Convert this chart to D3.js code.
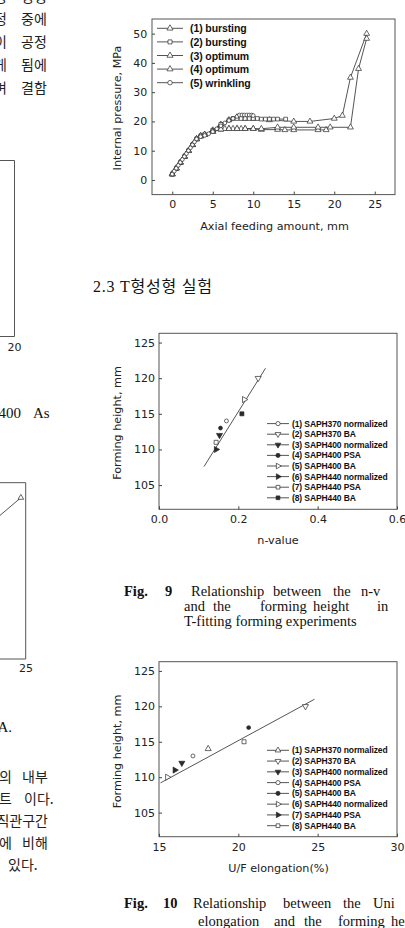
<!DOCTYPE html>
<html><head><meta charset="utf-8">
<script src="https://cdn.jsdelivr.net/npm/d3@7"></script>
<style>
html,body{margin:0;padding:0;background:#fff;}
svg{display:block;}
.tick text{font-family:"DejaVu Sans",sans-serif;fill:#222;}
</style></head>
<body>
<svg id="page" width="405" height="928"></svg>
<script>
// ---------- Chart 1 data (Internal pressure vs axial feeding) ----------
const c1XTicks = [0, 5, 10, 15, 20, 25];
const c1YTicks = [0, 10, 20, 30, 40, 50];
const c1Names = ["(1) bursting", "(2) bursting", "(3) optimum", "(4) optimum", "(5) wrinkling"];
const c1Shapes = ["triUp", "square", "triUp", "triUp", "circle"];
const s1X = [0, 0.5, 1, 1.5, 2, 2.5, 3, 3.5, 4, 5, 6, 7, 8, 9, 10, 12, 15, 17, 20, 21, 22, 24];
const s1Y = [2, 4, 6, 8, 10, 12, 14, 15, 15.5, 17, 19, 20.5, 21.5, 21, 21, 20.5, 20, 20, 21, 22, 35, 50];
const s2X = [0, 0.5, 1, 1.5, 2, 2.5, 3, 3.5, 4, 5, 6, 7, 7.5, 8, 8.5, 9, 9.5, 10, 10.5, 11, 11.5, 12, 12.5, 13, 14];
const s2Y = [2, 4, 6, 8, 10, 12, 14, 15, 15.5, 17, 19, 20.5, 21, 21, 21, 21, 21, 21, 21, 20.8, 20.8, 20.8, 20.8, 20.8, 20.8];
const s3X = [0, 0.5, 1, 1.5, 2, 2.5, 3, 3.5, 4, 5, 6, 6.5, 7, 7.5, 8, 8.5, 9, 10, 11, 13, 13.9, 15, 18, 19];
const s3Y = [2, 4, 6, 8, 10, 12, 14, 15, 15.5, 16.5, 17.3, 17.5, 17.5, 17.5, 17.5, 17.5, 17.5, 17.5, 17.2, 17.2, 17.1, 17.1, 17.1, 17.1];
const s4X = [0, 0.5, 1, 1.5, 2, 2.5, 3, 3.5, 4, 5, 6, 7, 8, 9, 10, 11, 13, 15, 18, 19.5, 22, 23, 24];
const s4Y = [2, 4, 6, 8, 10, 12, 14, 15, 15.5, 16.5, 17.3, 17.5, 17.5, 17.5, 17.5, 17.5, 18, 18, 18, 18, 18, 38, 48.3];
const s5X = [0, 0.25, 0.5, 0.75, 1, 1.25, 1.5, 1.75, 2, 2.25, 2.5, 2.75, 3, 3.5, 4, 4.5, 5, 5.5, 6, 6.5, 7, 7.5, 8, 8.3, 8.6, 8.9, 9.2, 9.5, 9.8, 10];
const s5Y = [2, 3, 4, 5, 6, 7, 8, 9, 10, 11, 12, 13, 14, 14.8, 15.2, 15.8, 16.5, 17.5, 18.5, 19.5, 20.3, 21, 21.7, 22.2, 22.2, 22.2, 22.2, 22.2, 22.2, 22];

// ---------- Chart 2 data (Fig. 9: forming height vs n-value) ----------
const c2XTicks = [0.0, 0.2, 0.4, 0.6];
const c2YTicks = [105, 110, 115, 120, 125];
const c2Names = ["(1) SAPH370 normalized", "(2) SAPH370 BA", "(3) SAPH400 normalized", "(4) SAPH400 PSA",
                 "(5) SAPH400 BA", "(6) SAPH440 normalized", "(7) SAPH440 PSA", "(8) SAPH440 BA"];
const c2Shapes = ["circle", "triDown", "triDownF", "circleF", "triRight", "triRightF", "square", "squareF"];
const c2X = [0.17, 0.25, 0.1525, 0.155, 0.215, 0.144, 0.144, 0.209];
const c2Y = [114, 120, 112, 113, 117, 110, 111, 115];
const c2FitX = [0.1135, 0.2686];
const c2FitY = [107.6, 121.4];

// ---------- Chart 3 data (Fig. 10: forming height vs U/F elongation) ----------
const c3XTicks = [15, 20, 25, 30];
const c3YTicks = [105, 110, 115, 120, 125];
const c3Names = ["(1) SAPH370 normalized", "(2) SAPH370 BA", "(3) SAPH400 normalized", "(4) SAPH400 PSA",
                 "(5) SAPH400 BA", "(6) SAPH440 normalized", "(7) SAPH440 PSA", "(8) SAPH440 BA"];
const c3Shapes = ["triUp", "triDown", "triDownF", "circle", "circleF", "triRight", "triRightF", "square"];
const c3X = [18.1, 24.23, 16.44, 17.14, 20.65, 15.53, 16.0, 20.36];
const c3Y = [114, 120, 112, 113, 117, 110, 111, 115];
const c3FitX = [15.1, 24.8];
const c3FitY = [109.2, 121.0];

// ---------- Page fragments ----------
const fragLine2X = [19.2, 24.4];
const fragLine2Y = [37.9, 50];

const svg = d3.select("#page");
const INK = "#2a2a2a";

function symbolPath(shape, size) {
  let type = d3.symbolTriangle;
  if (shape.startsWith("circle")) type = d3.symbolCircle;
  if (shape.startsWith("square")) type = d3.symbolSquare;
  return d3.symbol().type(type).size(size)();
}
function rotation(shape) {
  if (shape.startsWith("triDown")) return 180;
  if (shape.startsWith("triRight")) return 90;
  return 0;
}
function isFilled(shape) { return shape.endsWith("F"); }

function drawMarker(g, shape, x, y, size) {
  g.append("path")
    .attr("d", symbolPath(shape, size))
    .attr("transform", `translate(${x},${y}) rotate(${rotation(shape)})`)
    .attr("fill", isFilled(shape) ? INK : "#fff")
    .attr("stroke", INK).attr("stroke-width", 0.7);
}

function frameAndAxes(cfg) {
  const g = svg.append("g");
  const x = d3.scaleLinear().domain(cfg.xDom).range([cfg.left, cfg.right]);
  const y = d3.scaleLinear().domain(cfg.yDom).range([cfg.bottom, cfg.top]);
  g.append("rect").attr("x", cfg.left).attr("y", cfg.top)
    .attr("width", cfg.right - cfg.left).attr("height", cfg.bottom - cfg.top)
    .attr("fill", "none").attr("stroke", "#555").attr("stroke-width", 1);
  const ax = g.append("g").attr("transform", `translate(0,${cfg.bottom})`)
    .call(d3.axisBottom(x).tickValues(cfg.xTicks).tickSize(-3).tickPadding(cfg.xPad).tickFormat(cfg.xFmt));
  const ay = g.append("g").attr("transform", `translate(${cfg.left},0)`)
    .call(d3.axisLeft(y).tickValues(cfg.yTicks).tickSize(-3).tickPadding(cfg.yPad).tickFormat(d3.format("d")));
  [ax, ay].forEach(a => {
    a.select(".domain").remove();
    a.selectAll("line").attr("stroke", "#444");
    a.selectAll("text").attr("font-size", cfg.fs).attr("fill", "#222");
  });
  g.append("text").attr("x", cfg.xTitlePos[0]).attr("y", cfg.xTitlePos[1])
    .attr("text-anchor", "middle").attr("dominant-baseline", "central")
    .attr("font-family", "DejaVu Sans").attr("font-size", cfg.tfs).attr("fill", "#222").text(cfg.xTitle);
  g.append("text").attr("transform", `translate(${cfg.yTitlePos[0]},${cfg.yTitlePos[1]}) rotate(-90)`)
    .attr("text-anchor", "middle").attr("dominant-baseline", "central")
    .attr("font-family", "DejaVu Sans").attr("font-size", cfg.tfs).attr("fill", "#222").text(cfg.yTitle);
  return {g, x, y};
}

function legend(g, names, shapes, x0, x1, mx, tx, y0, dy, size, fs, ls) {
  names.forEach((n, i) => {
    const yy = y0 + i * dy;
    g.append("line").attr("x1", x0).attr("x2", x1).attr("y1", yy).attr("y2", yy)
      .attr("stroke", INK).attr("stroke-width", 0.8);
    drawMarker(g, shapes[i], mx, yy, size);
    g.append("text").attr("x", tx).attr("y", yy).attr("dominant-baseline", "central")
      .attr("font-family", "Liberation Sans, Arial, sans-serif").attr("font-weight", "bold")
      .attr("font-size", fs).attr("letter-spacing", ls).attr("fill", "#111").text(n);
  });
}

// ===== Chart 1 =====
{
  const {g, x, y} = frameAndAxes({
    left: 152, right: 395, top: 19, bottom: 194.6,
    xDom: [-2.5, 27.5], yDom: [-5, 55],
    xTicks: c1XTicks, yTicks: c1YTicks, xFmt: d3.format("d"),
    xPad: 5.7, yPad: 4.7, fs: 11, tfs: 11.2,
    xTitle: "Axial feeding amount, mm", xTitlePos: [274.5, 226],
    yTitle: "Internal pressure, MPa", yTitlePos: [117, 108]
  });
  const xs = [s1X, s2X, s3X, s4X, s5X], ys = [s1Y, s2Y, s3Y, s4Y, s5Y];
  const line = d3.line().x(d => x(d[0])).y(d => y(d[1]));
  xs.forEach((sx, k) => {
    const pts = sx.map((v, i) => [v, ys[k][i]]);
    g.append("path").attr("d", line(pts)).attr("fill", "none")
      .attr("stroke", INK).attr("stroke-width", 0.8);
  });
  xs.forEach((sx, k) => {
    sx.forEach((v, i) => drawMarker(g, c1Shapes[k], x(v), y(ys[k][i]), c1Shapes[k] === "circle" ? 11 : (c1Shapes[k] === "square" ? 14 : 15)));
  });
  legend(g, c1Names, c1Shapes, 157, 183, 170, 190, 28.3, 13.6, 16, 10.5, -0.1);
}

// ===== Chart 2 =====
{
  const {g, x, y} = frameAndAxes({
    left: 159, right: 397, top: 333.3, bottom: 509.3,
    xDom: [0, 0.6], yDom: [101.6, 126.3],
    xTicks: c2XTicks, yTicks: c2YTicks, xFmt: d3.format(".1f"),
    xPad: 6, yPad: 4, fs: 11, tfs: 11.2,
    xTitle: "n-value", xTitlePos: [278, 540],
    yTitle: "Forming height, mm", yTitlePos: [117, 423]
  });
  g.append("line").attr("x1", x(c2FitX[0])).attr("y1", y(c2FitY[0]))
    .attr("x2", x(c2FitX[1])).attr("y2", y(c2FitY[1])).attr("stroke", INK).attr("stroke-width", 0.8);
  c2X.forEach((v, i) => drawMarker(g, c2Shapes[i], x(v), y(c2Y[i]), c2Shapes[i].startsWith("circle") ? 12 : 16));
  legend(g, c2Names, c2Shapes, 267, 289, 278, 292, 423.6, 10.6, 14, 8.5, -0.1);
}

// ===== Chart 3 =====
{
  const {g, x, y} = frameAndAxes({
    left: 159, right: 397, top: 661.7, bottom: 836.7,
    xDom: [15, 30], yDom: [101.6, 126.3],
    xTicks: c3XTicks, yTicks: c3YTicks, xFmt: d3.format("d"),
    xPad: 6.5, yPad: 4, fs: 11, tfs: 11.2,
    xTitle: "U/F elongation(%)", xTitlePos: [278.5, 868.3],
    yTitle: "Forming height, mm", yTitlePos: [117, 751.5]
  });
  g.append("line").attr("x1", x(c3FitX[0])).attr("y1", y(c3FitY[0]))
    .attr("x2", x(c3FitX[1])).attr("y2", y(c3FitY[1])).attr("stroke", INK).attr("stroke-width", 0.8);
  c3X.forEach((v, i) => drawMarker(g, c3Shapes[i], x(v), y(c3Y[i]), c3Shapes[i].startsWith("circle") ? 12 : 16));
  legend(g, c3Names, c3Shapes, 267, 289, 278, 292, 750.3, 10.77, 14, 8.5, -0.1);
}

// ===== Page fragments (neighbouring column) =====
const page = svg.append("g");
const kr = "Noto Sans CJK KR";
const serif = "Liberation Serif, Noto Sans CJK KR, serif";
function txt(x, y, s, opts = {}) {
  return page.append("text").attr("x", x).attr("y", y)
    .attr("font-family", opts.ff || kr).attr("font-size", opts.fs || 14)
    .attr("font-weight", opts.fw || "normal")
    .attr("text-anchor", opts.anchor || "start").attr("fill", opts.fill || "#222").text(s);
}
// Korean text top-left
[["성", "성형", 2], ["정", "중에", 24], ["이", "공정", 47], ["게", "됨에", 70], ["며", "결함", 93]].forEach(r => {
  txt(7, r[2], r[0], {anchor: "end"});
  txt(21, r[2], r[1]);
});
// frame fragment 1
page.append("path").attr("d", "M0,160.5H14.5V336.5H0").attr("fill", "none").attr("stroke", "#555");
txt(14.5, 351, "20", {ff: "DejaVu Sans", fs: 11, anchor: "middle"});
txt(21, 418, "400", {ff: serif, fs: 15, anchor: "end", fill: "#111"});
txt(33, 418, "As", {ff: serif, fs: 15, fill: "#111"});
// frame fragment 2 with a data point
{
  const fx = d3.scaleLinear().domain([21.8, 25]).range([0, 25.7]);
  const fy = d3.scaleLinear().domain([-5, 55]).range([659, 483]);
  page.append("path").attr("d", "M0,482.7H25.7V659H0").attr("fill", "none").attr("stroke", "#555");
  page.append("line").attr("x1", fx(fragLine2X[0])).attr("y1", fy(fragLine2Y[0]))
    .attr("x2", fx(fragLine2X[1])).attr("y2", fy(fragLine2Y[1])).attr("stroke", INK).attr("stroke-width", 0.8);
  drawMarker(page, "triUp", fx(fragLine2X[1]), fy(fragLine2Y[1]), 14);
  txt(26, 672, "25", {ff: "DejaVu Sans", fs: 11, anchor: "middle"});
}
txt(12, 732, "A.", {ff: serif, fs: 15, anchor: "end", fill: "#111"});
[["의", "내부", 782], ["트", "이다.", 804]].forEach(r => {
  txt(12, r[2], r[0], {anchor: "end"});
  txt(r[1] === "이다." ? 24 : 22, r[2], r[1]);
});
txt(48, 826, "직관구간", {anchor: "end"});
txt(12, 848, "에", {anchor: "end"});
txt(22, 848, "비해");
txt(8, 870, "있다.");

// section heading
page.append("text").attr("x", 93).attr("y", 292).attr("font-family", serif).attr("font-size", 16)
  .attr("letter-spacing", 0.8).attr("fill", "#111").text("2.3 T형성형  실험");

// captions
function cap(words, y) {
  words.forEach(w => {
    page.append("text").attr("x", w[1]).attr("y", y).attr("font-family", "Liberation Serif, serif")
      .attr("font-size", 14.5).attr("font-weight", w[2] ? "bold" : "normal").attr("fill", "#111")
      .text(w[0]);
  });
}
cap([["Fig.", 124, 1], ["9", 165, 1], ["Relationship", 191], ["between", 273], ["the", 333], ["n-v", 361]], 596);
cap([["and", 184], ["the", 213], ["forming", 260], ["height", 313], ["in", 377]], 611);
cap([["T-fitting forming experiments", 184]], 626);
cap([["Fig.", 124, 1], ["10", 163, 1], ["Relationship", 193], ["between", 283], ["the", 343], ["Uni", 373]], 908);
cap([["elongation", 198], ["and", 274], ["the", 304], ["forming", 338], ["he", 391]], 926);
</script>
</body></html>
